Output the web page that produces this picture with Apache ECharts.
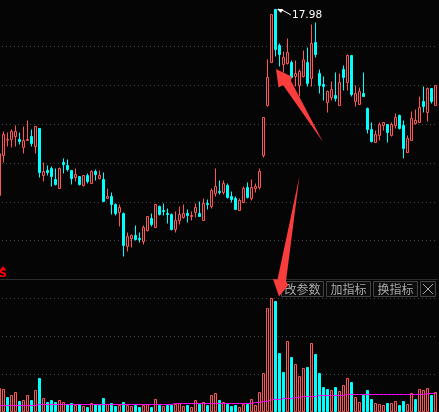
<!DOCTYPE html>
<html lang="en">

<head>
    <meta charset="UTF-8">
    <title>K-line</title>
    <script src="https://cdnjs.cloudflare.com/ajax/libs/echarts/6.0.0/echarts.min.js"></script>
    <style>
        html, body { margin: 0; padding: 0; background: #050505; overflow: hidden; }
        #main { width: 439px; height: 412px; }
    </style>
</head>

<body>
    <div id="main"></div>

    <script>
        const opens = [12.40,
            13.60, 14.06, 14.08, 14.17, 14.08, 13.84, 14.05, 14.17, 13.87,
            14.41, 13.00, 13.15, 13.21, 12.88, 12.61, 13.39, 13.30, 13.15, 12.94,
            12.97, 12.70, 13.00, 12.76, 13.12, 12.91, 12.88, 12.31, 12.37, 12.13,
            11.89, 11.86, 10.87, 11.11, 11.20, 11.11, 11.02, 11.35, 11.71, 11.44,
            12.07, 11.95, 11.86, 11.83, 11.38, 11.65, 11.74, 11.86, 11.77, 11.89,
            11.86, 11.65, 12.16, 12.07, 12.46, 12.52, 12.49, 12.70, 12.37, 12.31,
            11.95, 12.19, 12.64, 12.31, 12.61, 12.64, 13.60, 15.10, 16.39, 17.98,
            16.90, 16.33, 16.36, 16.39, 15.97, 15.70, 15.97, 16.39, 15.91, 16.99,
            16.06, 15.73, 15.19, 15.34, 15.40, 15.10, 16.18, 15.79, 16.60, 15.22,
            15.13, 15.46, 15.01, 14.38, 13.99, 14.20, 14.50, 14.53, 14.20, 14.50,
            14.80, 14.50, 13.69, 14.05, 14.56, 14.59, 15.22, 14.89, 15.61, 15.10];
        const closes = [13.65,
            14.23, 14.08, 14.32, 14.32, 14.02, 14.05, 14.08, 13.96, 14.47,
            13.09, 13.12, 13.09, 12.97, 12.73, 13.21, 13.33, 13.18, 12.91, 13.03,
            12.73, 13.00, 12.82, 13.12, 13.03, 13.00, 12.22, 12.37, 12.13, 11.86,
            12.04, 10.90, 11.17, 11.20, 11.08, 11.08, 11.44, 11.77, 11.53, 12.13,
            11.83, 11.92, 11.83, 11.38, 11.65, 11.83, 11.86, 11.80, 11.80, 12.04,
            11.77, 12.16, 12.13, 12.55, 12.67, 12.49, 12.76, 12.34, 12.28, 11.98,
            12.25, 12.61, 12.34, 12.64, 12.67, 13.12, 14.74, 15.94, 17.83, 16.78,
            16.63, 16.54, 16.69, 15.94, 16.06, 16.12, 16.47, 15.76, 16.96, 16.63,
            15.70, 15.67, 15.52, 15.58, 15.31, 15.79, 15.94, 16.60, 15.43, 15.46,
            15.52, 15.37, 14.38, 14.02, 14.23, 14.53, 14.59, 14.29, 14.53, 14.74,
            14.41, 13.81, 14.11, 14.71, 14.65, 15.04, 15.07, 15.61, 15.22, 15.70];
        const lows = [12.40,
            13.39, 13.87, 13.84, 13.87, 13.93, 13.66, 14.05, 13.87, 13.66,
            12.94, 12.82, 13.00, 12.67, 12.70, 12.61, 13.06, 13.12, 12.73, 12.82,
            12.70, 12.67, 12.76, 12.76, 12.85, 12.88, 12.22, 12.31, 11.83, 11.80,
            11.47, 10.57, 10.72, 10.84, 11.05, 10.99, 10.93, 11.32, 11.47, 11.44,
            11.80, 11.80, 11.56, 11.35, 11.29, 11.53, 11.71, 11.59, 11.65, 11.74,
            11.77, 11.65, 11.98, 12.01, 12.37, 12.43, 12.43, 12.31, 12.19, 11.98,
            11.95, 12.19, 12.31, 12.25, 12.49, 12.58, 13.54, 15.07, 16.39, 16.57,
            16.27, 16.09, 16.33, 15.91, 15.67, 15.37, 15.94, 15.67, 15.67, 16.54,
            15.46, 15.25, 14.89, 15.25, 15.22, 15.10, 15.55, 15.55, 15.37, 15.07,
            15.13, 15.37, 14.26, 13.99, 13.99, 14.05, 14.35, 13.99, 14.17, 14.41,
            14.38, 13.51, 13.69, 14.05, 14.53, 14.59, 14.89, 14.62, 15.16, 15.10];
        const highs = [13.65,
            14.32, 14.29, 14.38, 14.50, 14.29, 14.47, 14.65, 14.38, 14.47,
            14.41, 13.39, 13.30, 13.27, 13.21, 13.24, 13.51, 13.48, 13.15, 13.21,
            12.97, 13.00, 13.06, 13.15, 13.18, 13.15, 13.09, 12.61, 12.49, 12.16,
            12.13, 11.89, 11.29, 11.23, 11.50, 11.29, 11.50, 11.77, 11.86, 12.13,
            12.10, 12.16, 12.01, 11.86, 11.92, 12.07, 12.13, 11.98, 11.92, 12.16,
            12.22, 12.31, 12.28, 12.61, 13.21, 12.85, 12.85, 12.76, 12.52, 12.37,
            12.31, 12.67, 12.79, 12.88, 12.76, 13.21, 14.74, 16.48, 17.83, 17.98,
            16.96, 16.72, 17.11, 16.45, 16.45, 16.18, 16.75, 16.84, 17.53, 17.59,
            16.18, 15.97, 15.55, 15.82, 16.09, 16.06, 16.30, 16.63, 16.60, 15.70,
            15.64, 16.09, 15.04, 14.59, 14.35, 14.59, 14.59, 14.53, 14.59, 14.86,
            14.83, 14.65, 14.20, 14.92, 14.98, 15.37, 15.67, 15.64, 15.61, 15.70];

        const volumes = [72,
            69, 45, 51, 60, 33, 36, 51, 36, 66,
            102, 42, 30, 36, 30, 36, 30, 24, 27, 21,
            24, 18, 15, 27, 24, 21, 42, 24, 27, 18,
            21, 30, 21, 18, 21, 15, 21, 24, 15, 39,
            21, 18, 21, 21, 24, 27, 18, 21, 15, 36,
            24, 30, 21, 51, 57, 36, 30, 24, 18, 21,
            15, 24, 24, 39, 21, 60, 117, 312, 342, 333,
            177, 120, 213, 165, 144, 108, 132, 135, 207, 174,
            117, 75, 69, 66, 75, 63, 81, 102, 90, 45,
            30, 51, 66, 39, 27, 24, 21, 27, 27, 33,
            21, 33, 24, 57, 39, 69, 66, 72, 51, 60];
        const volumeUp = [1,
            1, 0, 1, 1, 0, 1, 1, 0, 1,
            0, 1, 0, 0, 0, 1, 1, 0, 0, 1,
            0, 1, 0, 1, 0, 0, 0, 1, 0, 0,
            1, 0, 1, 1, 0, 0, 1, 1, 0, 1,
            0, 1, 0, 0, 1, 1, 1, 0, 1, 1,
            0, 1, 0, 1, 1, 0, 1, 0, 0, 0,
            1, 1, 0, 1, 1, 1, 1, 1, 1, 0,
            0, 0, 1, 0, 1, 1, 1, 0, 1, 0,
            0, 0, 0, 1, 0, 1, 1, 1, 0, 1,
            1, 0, 0, 0, 1, 1, 1, 0, 1, 1,
            0, 0, 1, 1, 0, 1, 1, 1, 0, 1];
        const volumeMa = [19.5,
            19.5, 19.5, 19.5, 19.5, 19.5, 19.5, 19.5, 19.5, 19.5,
            22.5, 22.5, 22.5, 22.5, 22.5, 22.5, 22.5, 22.5, 22.5, 22.5,
            22.5, 22.5, 22.5, 22.5, 22.5, 22.5, 22.5, 22.5, 22.5, 22.5,
            22.5, 22.5, 22.5, 22.5, 22.5, 22.5, 22.5, 22.5, 22.5, 22.5,
            22.5, 22.5, 22.5, 22.5, 25.5, 25.5, 25.5, 25.5, 25.5, 25.5,
            25.5, 25.5, 25.5, 25.5, 25.5, 25.5, 25.5, 25.5, 25.5, 25.5,
            25.5, 25.5, 25.5, 25.5, 28.5, 28.5, 31.5, 31.5, 37.5, 37.5,
            37.5, 40.5, 40.5, 40.5, 43.5, 43.5, 46.5, 46.5, 46.5, 46.5,
            49.5, 49.5, 49.5, 49.5, 49.5, 49.5, 49.5, 52.5, 52.5, 52.5,
            52.5, 52.5, 52.5, 52.5, 52.5, 52.5, 52.5, 52.5, 52.5, 52.5,
            52.5, 52.5, 52.5, 52.5, 52.5, 52.5, 52.5, 55.5, 55.5, 55.5];

        const categories = closes.map((_, i) => i);
        const candles = closes.map((c, i) => [opens[i], c, lows[i], highs[i]]);

        const BG = '#050505';
        const RED = '#ff5555';
        const CYAN = '#00ffff';
        const DOTS = { color: '#4a4a4a', type: [1, 3], dashOffset: 3.5, width: 1 };

        const myChart = echarts.init(document.getElementById('main'), null, { renderer: 'canvas' });

        function button(x, w, label) {
            return [
                { type: 'rect', z: 50, shape: { x: x + 0.5, y: 281.5, width: w, height: 15 }, style: { fill: '#0c0c0c', stroke: '#444' } },
                { type: 'text', z: 51, style: { x: x + w / 2 + 0.5, y: 289.5, text: label, fill: '#a8a8a8', font: '12px "Noto Sans CJK SC"', align: 'center', verticalAlign: 'middle' } }
            ];
        }

        const graphicItems = [
            // buttons on the volume panel
            ...button(281, 42, '改参数'),
            ...button(326, 44, '加指标'),
            ...button(373, 44, '换指标'),
            { type: 'rect', z: 50, shape: { x: 420.5, y: 281.5, width: 15, height: 15 }, style: { fill: '#0c0c0c', stroke: '#444' } },
            { type: 'polyline', z: 51, shape: { points: [[423, 284], [433, 294]] }, style: { stroke: '#a8a8a8', fill: null } },
            { type: 'polyline', z: 51, shape: { points: [[433, 284], [423, 294]] }, style: { stroke: '#a8a8a8', fill: null } },
            // red arrows
            { type: 'polygon', z: 60, shape: { points: [[276, 69], [291.5, 76.5], [291, 81], [323, 142], [283, 85], [278.5, 87.5]] }, style: { fill: '#f93c3c' } },
            { type: 'polygon', z: 60, shape: { points: [[299.5, 176], [286, 281.5], [288.5, 285], [279, 296.5], [273, 279], [277.5, 279.5]] }, style: { fill: '#f93c3c' } },
            // high price note
            { type: 'polyline', z: 55, shape: { points: [[278, 9], [284, 11], [291, 15]] }, style: { stroke: '#ffffff', fill: null } },
            { type: 'polygon', z: 55, shape: { points: [[277, 9], [283, 9], [281, 13]] }, style: { fill: '#ffffff' } },
            { type: 'text', z: 55, style: { x: 292, y: 15, text: '17.98', fill: '#ffffff', font: '10.5px "DejaVu Sans"', verticalAlign: 'middle' } },
            // buy marker
            { type: 'polygon', z: 55, shape: { points: [[3, 266], [6, 270], [0, 270]] }, style: { fill: '#ff0000' } },
            { type: 'text', z: 55, style: { x: -1, y: 274, text: 'S', fill: '#ff0000', font: 'bold 11px "DejaVu Sans"', verticalAlign: 'middle' } }
        ];

        const option = {
            animation: false,
            backgroundColor: BG,
            grid: [
                // outerBoundsMode none: the first candle starts left of the canvas.
                // half pixel top keeps the one pixel candle outlines sharp
                { left: -2.5, top: 7.5, width: 440, height: 272, outerBoundsMode: 'none' },
                { left: -2.5, top: 279, width: 440, height: 133, outerBoundsMode: 'none' }
            ],
            xAxis: [
                {
                    type: 'category', gridIndex: 0, data: categories,
                    axisLine: { show: true, onZero: false, lineStyle: { color: '#2c2c2c' } },
                    axisTick: { show: false }, axisLabel: { show: false }
                },
                {
                    type: 'category', gridIndex: 1, data: categories,
                    axisLine: { show: false }, axisTick: { show: false }, axisLabel: { show: false }
                }
            ],
            yAxis: [
                {
                    type: 'value', gridIndex: 0, min: 9.88, max: 18.04, scale: true,
                    axisLine: { show: false }, axisTick: { show: false }, axisLabel: { show: false },
                    splitLine: { show: false }
                },
                {
                    // only here for the dotted price lines
                    type: 'value', gridIndex: 0, min: 0, max: 7, interval: 1,
                    axisLine: { show: false }, axisTick: { show: false }, axisLabel: { show: false },
                    splitLine: { show: true, showMinLine: false, showMaxLine: false, lineStyle: DOTS }
                },
                {
                    type: 'value', gridIndex: 1, min: 0, max: 399, interval: 114,
                    axisLine: { show: false }, axisTick: { show: false }, axisLabel: { show: false },
                    splitLine: { show: true, showMinLine: false, showMaxLine: false, lineStyle: DOTS }
                }
            ],
            series: [
                {
                    type: 'candlestick', xAxisIndex: 0, yAxisIndex: 0, data: candles, barWidth: 2,
                    itemStyle: { color: BG, color0: CYAN, borderColor: RED, borderColor0: CYAN, borderWidth: 1 }
                },
                {
                    // bar borders are drawn inside barWidth
                    type: 'bar', xAxisIndex: 1, yAxisIndex: 2, barWidth: 3,
                    data: volumes.map((v, i) => ({
                        value: v,
                        itemStyle: volumeUp[i]
                            ? { color: BG, borderColor: RED, borderWidth: 1 }
                            : { color: CYAN, borderColor: CYAN, borderWidth: 1 }
                    }))
                },
                {
                    type: 'line', xAxisIndex: 1, yAxisIndex: 2, data: volumeMa, symbol: 'none', z: 5,
                    lineStyle: { color: '#ff00ff', width: 1 }
                }
            ],
            graphic: graphicItems
        };

        myChart.setOption(option);
    </script>
</body>

</html>
